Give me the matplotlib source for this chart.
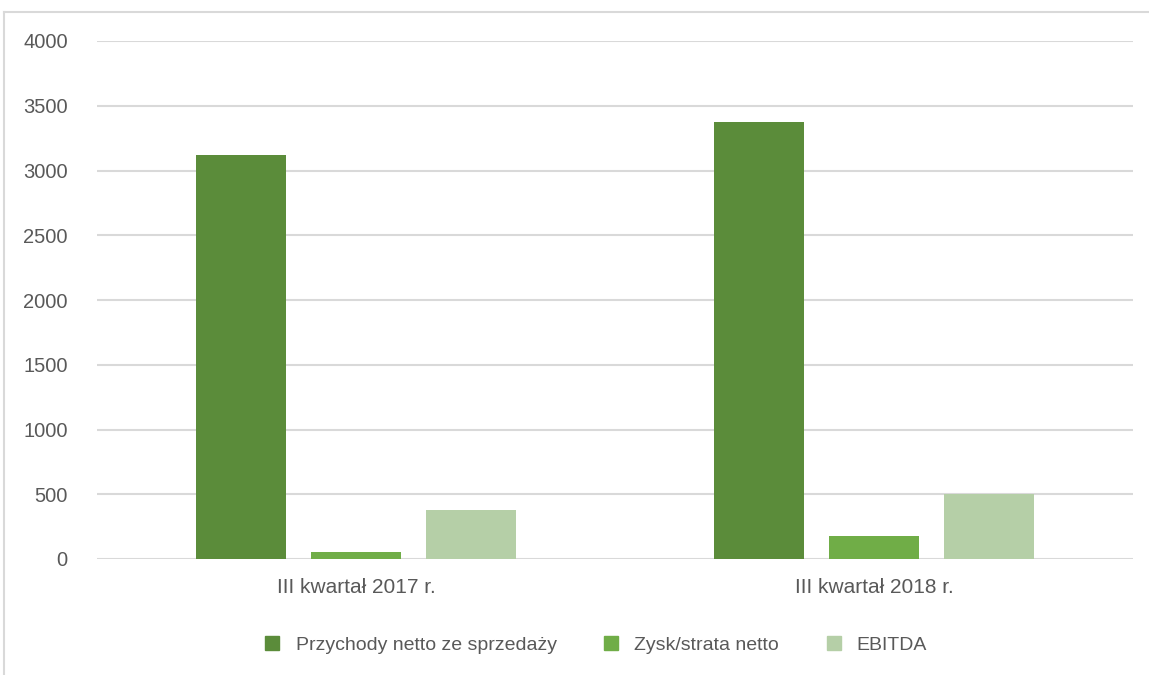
import matplotlib.pyplot as plt
import numpy as np
from matplotlib.lines import Line2D

plt.rcParams['font.family'] = ['Liberation Sans Narrow', 'Liberation Sans', 'DejaVu Sans']

categories = ['III kwartał 2017 r.', 'III kwartał 2018 r.']
series_names = ['Przychody netto ze sprzedaży', 'Zysk/strata netto', 'EBITDA']
przychody = [3120, 3375]
zysk = [52, 178]
ebitda = [380, 503]
colors = ['#5b8c3a', '#70ad47', '#b5cfa7']
yticks = [0, 500, 1000, 1500, 2000, 2500, 3000, 3500, 4000]

fig = plt.figure(figsize=(11.49, 6.75), dpi=100)
ax = fig.add_axes([97/1149, 1-559/675, (1133-97)/1149, (559-41)/675])

x = np.arange(len(categories))
width = 0.174
offset = 0.222
for i, vals in enumerate([przychody, zysk, ebitda]):
	ax.bar(x + (i-1)*offset, vals, width, color=colors[i], label=series_names[i], zorder=3)

ax.set_xlim(-0.5, 1.5)
ax.set_ylim(0, 4000)
ax.set_yticks(yticks)
ax.set_yticklabels([str(t) for t in yticks])
ax.set_xticks(x)
ax.set_xticklabels(categories)
ax.grid(axis='y', color='#d9d9d9', linewidth=1.5, zorder=0)
for s in ax.spines.values():
	s.set_visible(False)
ax.tick_params(axis='both', length=0, colors='#595959')
ax.tick_params(axis='y', pad=21, labelsize=14.5)
ax.tick_params(axis='x', pad=14, labelsize=15)

handles = [Line2D([], [], marker='s', linestyle='none', markersize=10, color=c) for c in colors]
leg = fig.legend(handles, series_names, loc='center', bbox_to_anchor=(590/1149, 1-645/675),
	ncol=3, frameon=False, fontsize=14, handletextpad=0.2, columnspacing=1.8)
for t in leg.get_texts():
	t.set_color('#595959')

# outer chart frame (top and left edges)
fig.add_artist(Line2D([4/1149, 1], [1-12/675, 1-12/675], transform=fig.transFigure, color='#d9d9d9', linewidth=1.5))
fig.add_artist(Line2D([4/1149, 4/1149], [0, 1-12/675], transform=fig.transFigure, color='#d9d9d9', linewidth=1.5))

plt.savefig('out.png', dpi=100)
